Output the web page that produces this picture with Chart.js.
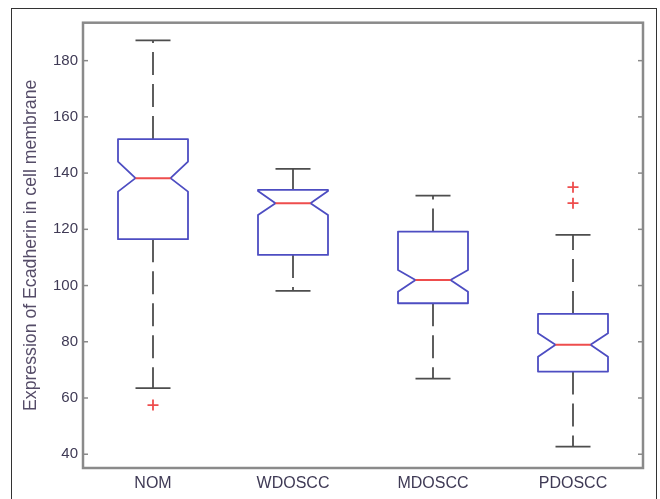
<!DOCTYPE html>
<html><head><meta charset="utf-8">
<script src="https://cdn.jsdelivr.net/npm/chart.js@4/dist/chart.umd.min.js"></script>
<style>html,body{margin:0;padding:0;background:#fff;} canvas{display:block;}</style>
</head><body>
<canvas id="c" width="660" height="499"></canvas>
<script>
const categories = ['NOM', 'WDOSCC', 'MDOSCC', 'PDOSCC'];
const whiskerLow = [63.5, 98.1, 66.9, 42.7];
const q1 = [116.5, 110.9, 93.7, 69.4];
const median = [138.2, 129.3, 102.0, 78.9];
const q3 = [152.1, 134.0, 119.2, 89.9];
const whiskerHigh = [187.2, 141.5, 132.0, 118.0];
const notchLow = [133.4, 125.1, 97.8, 74.7];
const notchHigh = [144.1, 133.6, 105.5, 83.0];
const outlierCategory = ['NOM', 'PDOSCC', 'PDOSCC'];
const outlierValue = [57.5, 135.0, 129.3];
const yTicks = [40, 60, 80, 100, 120, 140, 160, 180];

const BLUE = '#4d4dc2', RED = '#ee4d4d', WHISK = '#4d4d4d', FRAME = '#8a8a8a', TXT = '#3f3a55';

const boxPlugin = {
  id: 'boxes',
  beforeDraw(chart) {
    const ctx = chart.ctx;
    ctx.save();
    ctx.fillStyle = '#fff';
    ctx.fillRect(0, 0, chart.width, chart.height);
    ctx.strokeStyle = '#333';
    ctx.lineWidth = 1;
    ctx.strokeRect(11.5, 8.5, 645, 520);
    ctx.restore();
  },
  beforeDatasetsDraw(chart) {
    const { ctx, scales: { x, y } } = chart;
    const unit = x.getPixelForValue(1) - x.getPixelForValue(0);
    const hw = unit * 0.25, nw = hw * 0.5, cw = unit * 0.125;
    const line = (x1, y1, x2, y2) => { ctx.beginPath(); ctx.moveTo(x1, y1); ctx.lineTo(x2, y2); ctx.stroke(); };
    ctx.save();
    categories.forEach((c, i) => {
      const cx = x.getPixelForValue(i);
      const yq1 = y.getPixelForValue(q1[i]), yq3 = y.getPixelForValue(q3[i]);
      const ymed = y.getPixelForValue(median[i]);
      const ylo = y.getPixelForValue(whiskerLow[i]), yhi = y.getPixelForValue(whiskerHigh[i]);
      const ynl = y.getPixelForValue(notchLow[i]), ynh = y.getPixelForValue(notchHigh[i]);
      ctx.strokeStyle = WHISK; ctx.lineWidth = 1.8;
      ctx.setLineDash([23, 9]);
      line(cx, yq3, cx, yhi);
      line(cx, yq1, cx, ylo);
      ctx.setLineDash([]);
      line(cx - cw, yhi, cx + cw, yhi);
      line(cx - cw, ylo, cx + cw, ylo);
      ctx.strokeStyle = BLUE; ctx.lineWidth = 1.8; ctx.lineJoin = 'round';
      ctx.beginPath();
      ctx.moveTo(cx - hw, yq3); ctx.lineTo(cx + hw, yq3); ctx.lineTo(cx + hw, ynh);
      ctx.lineTo(cx + nw, ymed); ctx.lineTo(cx + hw, ynl); ctx.lineTo(cx + hw, yq1);
      ctx.lineTo(cx - hw, yq1); ctx.lineTo(cx - hw, ynl); ctx.lineTo(cx - nw, ymed);
      ctx.lineTo(cx - hw, ynh); ctx.closePath(); ctx.stroke();
      ctx.strokeStyle = RED; ctx.lineWidth = 2;
      line(cx - nw, ymed, cx + nw, ymed);
    });
    ctx.restore();
  },
  afterDatasetsDraw(chart) {
    const { ctx, chartArea: a, scales: { y } } = chart;
    ctx.save();
    ctx.strokeStyle = FRAME; ctx.lineWidth = 1.5;
    y.ticks.forEach(t => {
      const py = y.getPixelForValue(t.value);
      ctx.beginPath(); ctx.moveTo(a.left, py); ctx.lineTo(a.left + 5, py); ctx.stroke();
      ctx.beginPath(); ctx.moveTo(a.right, py); ctx.lineTo(a.right - 5, py); ctx.stroke();
    });
    ctx.lineWidth = 2.5;
    ctx.strokeRect(a.left, a.top, a.right - a.left, a.bottom - a.top);
    ctx.restore();
  }
};

new Chart(document.getElementById('c'), {
  type: 'line',
  data: {
    labels: categories,
    datasets: [{
      data: outlierCategory.map((c, i) => ({ x: c, y: outlierValue[i] })),
      showLine: false,
      pointStyle: 'cross',
      pointRadius: 5.5,
      pointBorderColor: RED,
      pointBorderWidth: 1.8,
      borderColor: RED
    }]
  },
  options: {
    responsive: false,
    devicePixelRatio: 1,
    animation: false,
    layout: { padding: { left: 0, right: 17, top: 22.7, bottom: 0 } },
    plugins: { legend: { display: false }, tooltip: { enabled: false } },
    scales: {
      x: {
        type: 'category',
        offset: true,
        grid: { display: false, drawTicks: false },
        border: { display: false },
        afterFit: s => { s.height = 31; },
        ticks: { padding: 6, color: TXT, font: { family: 'Liberation Sans, Arial', size: 16 } }
      },
      y: {
        type: 'linear',
        min: 35.1,
        max: 193.5,
        afterBuildTicks: s => { s.ticks = yTicks.map(v => ({ value: v })); },
        afterFit: s => { s.width = 83; },
        grid: { display: false, drawTicks: false },
        border: { display: false },
        ticks: { padding: 5, color: TXT, font: { family: 'Liberation Sans, Arial', size: 15 } },
        title: {
          display: true,
          text: 'Expression of Ecadherin in cell membrane',
          color: '#554c68',
          font: { family: 'Liberation Sans, Arial', size: 17.7 },
          padding: { top: 20, bottom: 0 }
        }
      }
    }
  },
  plugins: [boxPlugin]
});
</script>
</body></html>
